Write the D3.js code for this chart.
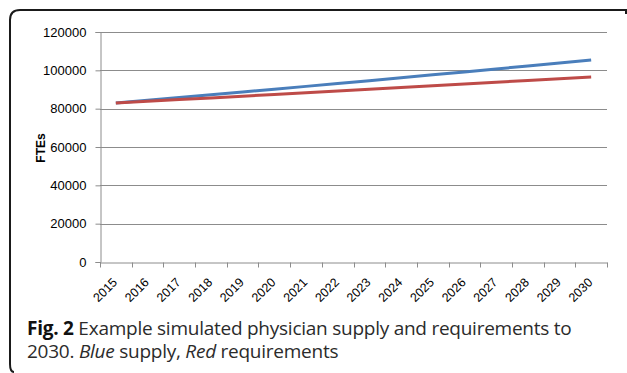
<!DOCTYPE html>
<html>
<head>
<meta charset="utf-8">
<script src="https://cdn.jsdelivr.net/npm/d3@7"></script>
<style>
  html, body { margin: 0; padding: 0; background: #fff; }
  svg { display: block; }
</style>
</head>
<body>
<svg id="chart" width="627" height="373"></svg>
<script>
// Simulated physician FTEs, 2015-2030
const years = ["2015","2016","2017","2018","2019","2020","2021","2022",
               "2023","2024","2025","2026","2027","2028","2029","2030"];
const supply = [82900, 84330, 85770, 87220, 88680, 90150, 91630, 93120,
                94620, 96130, 97650, 99180, 100720, 102270, 103830, 105400];
const requirements = [82900, 83810, 84720, 85620, 86530, 87430, 88340, 89250,
                      90150, 91060, 91960, 92870, 93780, 94690, 95600, 96500];
const yTicks = [0, 20000, 40000, 60000, 80000, 100000, 120000];

const svg = d3.select("#chart");
const plot = { left: 100, right: 607, top: 32, bottom: 262 };

// Panel frame: rounded on the left, open past the right edge
svg.append("path")
  .attr("d", "M626,14 L626,10 L20,10 Q10,10 10,20 L10,364 Q10,372 14,372")
  .attr("fill", "none")
  .attr("stroke", "#1a1a1a")
  .attr("stroke-width", 2);

const x = d3.scaleBand().domain(years).range([plot.left, plot.right]);
const y = d3.scaleLinear().domain([0, 120000]).range([plot.bottom, plot.top]);

// Horizontal gridlines
svg.append("g")
  .selectAll("line")
  .data(yTicks.filter(d => d > 0))
  .join("line")
  .attr("x1", plot.left).attr("x2", plot.right)
  .attr("y1", d => Math.round(y(d)) + 0.5).attr("y2", d => Math.round(y(d)) + 0.5)
  .attr("stroke", "#8c8c8c").attr("stroke-width", 1);

// Y axis
const yAxis = svg.append("g")
  .attr("transform", `translate(${plot.left + 0.5},0)`)
  .call(d3.axisLeft(y).tickValues(yTicks).tickSize(5).tickPadding(9).tickFormat(d3.format("d")));
yAxis.select(".domain").attr("stroke", "#8c8c8c");
yAxis.selectAll(".tick line").attr("stroke", "#8c8c8c");
yAxis.selectAll(".tick text")
  .attr("font-family", "Liberation Sans, Arial, sans-serif")
  .attr("font-size", 13).attr("fill", "#000");

// X axis with ticks on category boundaries
const xAxis = svg.append("g")
  .attr("transform", `translate(0,${Math.round(plot.bottom) + 0.5})`)
  .call(d3.axisBottom(x).tickSize(0).tickFormat(""));
xAxis.select(".domain").attr("stroke", "#8c8c8c");
xAxis.selectAll(".tick").remove();
const bounds = years.map(d => x(d)).concat([plot.right]);
xAxis.selectAll("line.bound")
  .data(bounds)
  .join("line")
  .attr("class", "bound")
  .attr("x1", d => Math.round(d) + 0.5).attr("x2", d => Math.round(d) + 0.5)
  .attr("y1", 0).attr("y2", 5)
  .attr("stroke", "#8c8c8c");

// Rotated year labels
svg.append("g")
  .selectAll("text")
  .data(years)
  .join("text")
  .attr("transform", d => `translate(${x(d) + x.bandwidth() / 2 - 4},${plot.bottom + 15}) rotate(-45)`)
  .attr("text-anchor", "end")
  .attr("dy", "0.7em")
  .attr("font-family", "Liberation Sans, Arial, sans-serif")
  .attr("font-size", 12.5)
  .attr("fill", "#000")
  .text(d => d);

// Y axis title
svg.append("text")
  .attr("transform", `translate(45,148) rotate(-90)`)
  .attr("text-anchor", "middle")
  .attr("font-family", "Liberation Sans, Arial, sans-serif")
  .attr("font-size", 12)
  .attr("font-weight", "bold")
  .attr("fill", "#000")
  .text("FTEs");

// Series lines
const line = d3.line()
  .x((d, i) => x(years[i]) + x.bandwidth() / 2)
  .y(d => y(d));

svg.append("path")
  .datum(supply)
  .attr("d", line)
  .attr("fill", "none")
  .attr("stroke", "#4a7ebb")
  .attr("stroke-width", 3)
  .attr("stroke-linejoin", "round");

svg.append("path")
  .datum(requirements)
  .attr("d", line)
  .attr("fill", "none")
  .attr("stroke", "#be4b48")
  .attr("stroke-width", 3)
  .attr("stroke-linejoin", "round");

// Caption, laid out piece by piece so each run keeps its own style
const captionLines = [
  { y: 335, runs: [
    { t: "Fig. 2", weight: "bold", fill: "#111" },
    { t: "\u00a0Example simulated physician supply and requirements to" }
  ]},
  { y: 358, runs: [
    { t: "2030.\u00a0" },
    { t: "Blue", style: "italic" },
    { t: "\u00a0supply,\u00a0" },
    { t: "Red", style: "italic" },
    { t: "\u00a0requirements" }
  ]}
];
captionLines.forEach(ln => {
  let cx = 27;
  ln.runs.forEach(r => {
    const t = svg.append("text")
      .attr("x", cx).attr("y", ln.y)
      .attr("font-family", "Open Sans, Noto Sans, sans-serif")
      .attr("font-size", 19)
      .attr("letter-spacing", -0.25)
      .attr("font-weight", r.weight || "normal")
      .attr("font-style", r.style || "normal")
      .attr("fill", r.fill || "#2b2b2b")
      .text(r.t);
    cx += t.node().getComputedTextLength();
  });
});
</script>
</body>
</html>
